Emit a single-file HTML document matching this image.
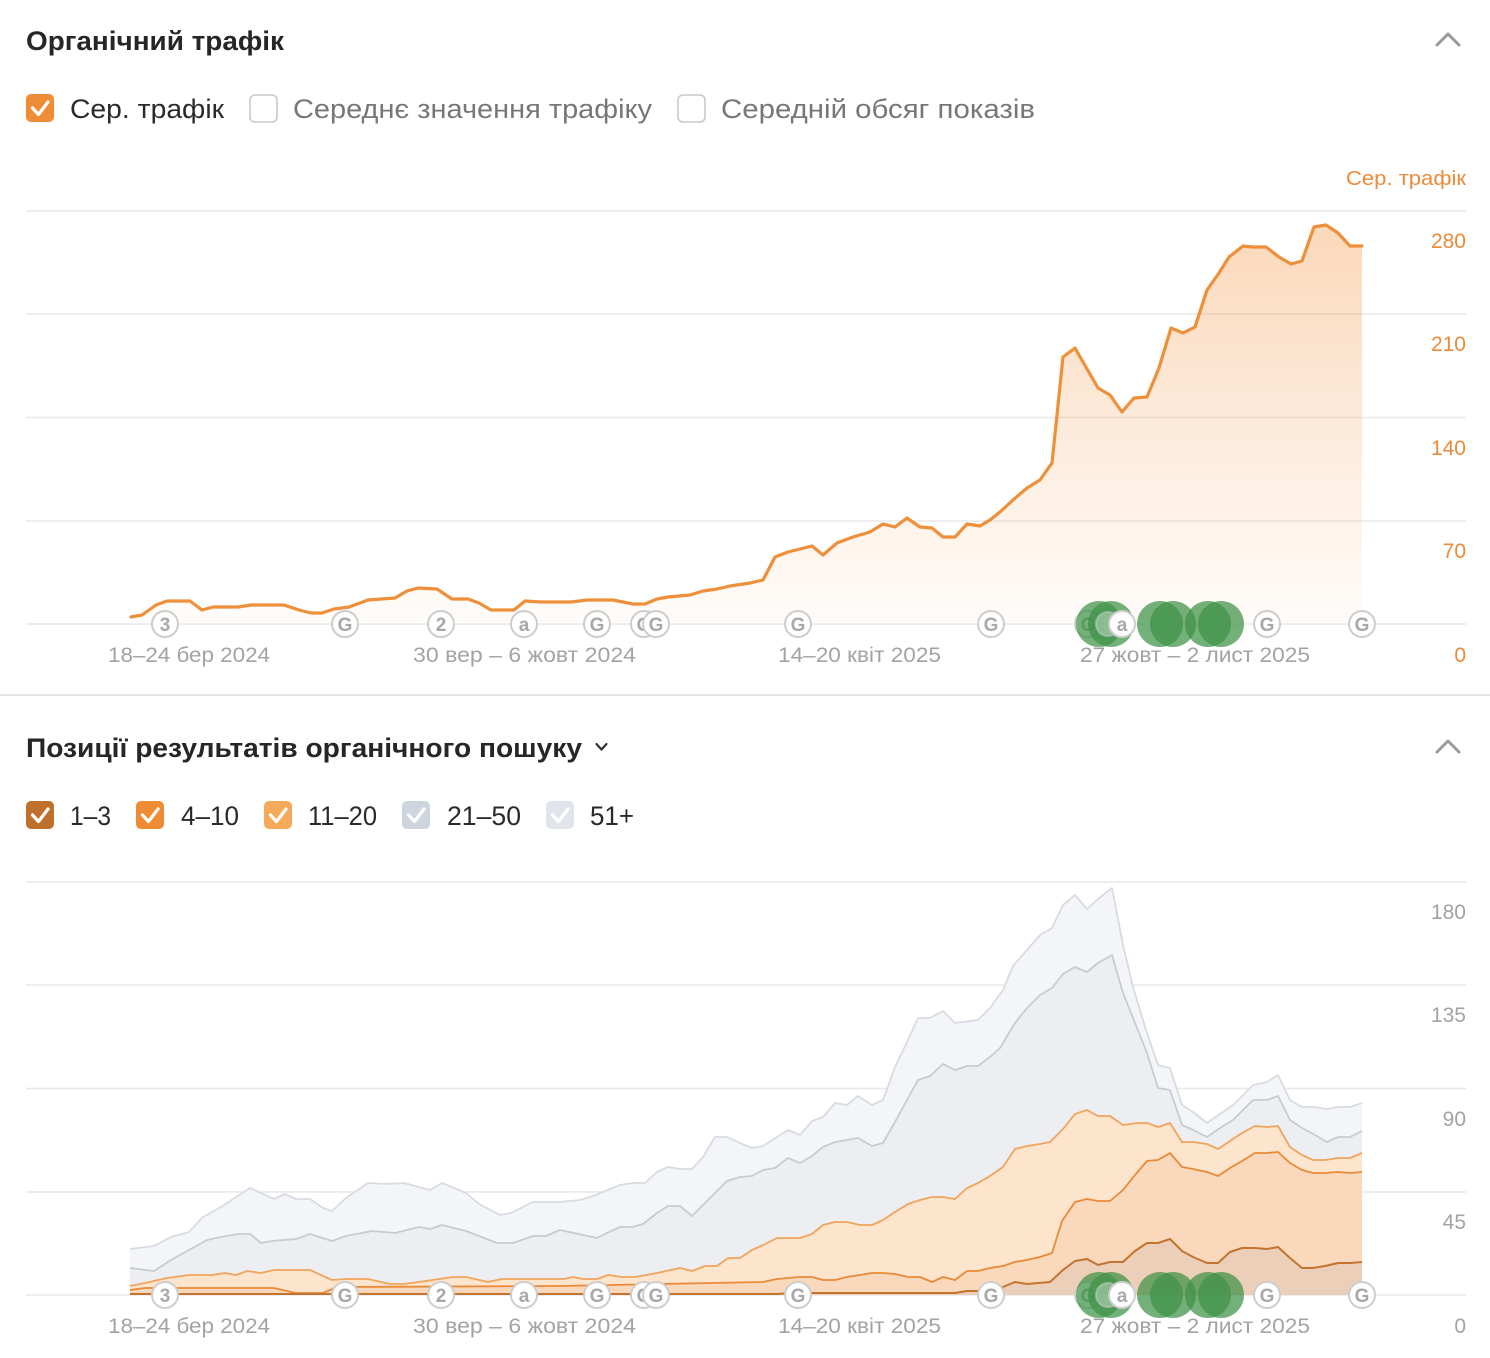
<!DOCTYPE html>
<html><head><meta charset="utf-8"><style>
html,body{margin:0;padding:0;background:#fff;}
svg{display:block;}
text{font-family:"Liberation Sans","Noto Sans CJK SC",sans-serif;}
</style></head><body>
<svg width="1490" height="1358" viewBox="0 0 1490 1358" xmlns="http://www.w3.org/2000/svg">
<defs>
<linearGradient id="fillO" x1="0" y1="225" x2="0" y2="624" gradientUnits="userSpaceOnUse">
<stop offset="0" stop-color="#f39a4c" stop-opacity="0.38"/>
<stop offset="1" stop-color="#f39a4c" stop-opacity="0.03"/>
</linearGradient>
</defs>
<rect width="1490" height="1358" fill="#fff"/>

<!-- Section 1 header -->
<text x="26" y="50" font-size="27" font-weight="bold" fill="#262626" textLength="258" lengthAdjust="spacingAndGlyphs">Органічний трафік</text>
<polyline points="1437,45 1448,34 1459,45" fill="none" stroke="#9a9a9a" stroke-width="3" stroke-linecap="round" stroke-linejoin="round"/>

<!-- checkboxes row -->
<rect x="26" y="94" width="28" height="28" rx="5" fill="#ef8d36"/>
<polyline points="32.5,108 38.5,114.5 48,102" fill="none" stroke="#fff" stroke-width="3.2" stroke-linecap="round" stroke-linejoin="round"/>
<text x="70" y="118" font-size="27" fill="#2a2a2a" textLength="154" lengthAdjust="spacingAndGlyphs">Сер. трафік</text>
<rect x="250" y="95" width="27" height="27" rx="5" fill="#fff" stroke="#c9c9c9" stroke-width="1.6"/>
<text x="293" y="118" font-size="27" fill="#777" textLength="359" lengthAdjust="spacingAndGlyphs">Середнє значення трафіку</text>
<rect x="678" y="95" width="27" height="27" rx="5" fill="#fff" stroke="#c9c9c9" stroke-width="1.6"/>
<text x="721" y="118" font-size="27" fill="#777" textLength="314" lengthAdjust="spacingAndGlyphs">Середній обсяг показів</text>

<!-- chart 1 axis title -->
<text x="1466" y="185" font-size="20" fill="#ec8a3a" text-anchor="end" textLength="120" lengthAdjust="spacingAndGlyphs">Сер. трафік</text>

<!-- chart1 gridlines -->
<g stroke="#e8e8e8" stroke-width="1.6">
<line x1="26" y1="211" x2="1466" y2="211"/>
<line x1="26" y1="314" x2="1466" y2="314"/>
<line x1="26" y1="417.5" x2="1466" y2="417.5"/>
<line x1="26" y1="521" x2="1466" y2="521"/>
<line x1="26" y1="624" x2="1466" y2="624"/>
</g>
<g font-size="21" fill="#ec8a3a" text-anchor="end">
<text x="1466" y="248">280</text>
<text x="1466" y="351">210</text>
<text x="1466" y="455">140</text>
<text x="1466" y="558">70</text>
<text x="1466" y="662">0</text>
</g>

<!-- chart1 area -->
<path fill="url(#fillO)" d="M131,617 L142,615 L156,605 L167,601 L190,601 L202,610 L213,607 L238,607 L251,605 L284,605 L299,610 L311,613 L322,613 L334,609 L349,607 L368,600 L395,598 L407,591 L418,588 L437,589 L452,599 L468,599 L479,603 L491,610 L514,610 L525,601 L541,602 L571,602 L587,600 L613,600 L633,604 L645,604 L657,599 L668,597 L690,595 L703,591 L717,589 L730,586 L750,583 L763,580 L775,557 L788,552 L812,546 L823,555 L837,543 L853,537 L870,532 L883,524 L895,527 L907,518 L920,527 L932,528 L943,537 L955,537 L967,524 L980,526 L990,520 L1000,512 L1013,500 L1027,488 L1040,480 L1052,463 L1063,357 L1075,348 L1098,388 L1110,395 L1122,412 L1134,398 L1147,397 L1159,368 L1171,328 L1183,333 L1195,327 L1207,290 L1219,273 L1229,257 L1243,246 L1253,247 L1266,247 L1279,257 L1291,264 L1302,261 L1314,227 L1326,225 L1338,233 L1350,246 L1362,246 L1362,622 L131,622 Z"/>
<polyline fill="none" stroke="#ee8f3a" stroke-width="3.2" stroke-linejoin="round" stroke-linecap="round" points="131,617 142,615 156,605 167,601 190,601 202,610 213,607 238,607 251,605 284,605 299,610 311,613 322,613 334,609 349,607 368,600 395,598 407,591 418,588 437,589 452,599 468,599 479,603 491,610 514,610 525,601 541,602 571,602 587,600 613,600 633,604 645,604 657,599 668,597 690,595 703,591 717,589 730,586 750,583 763,580 775,557 788,552 812,546 823,555 837,543 853,537 870,532 883,524 895,527 907,518 920,527 932,528 943,537 955,537 967,524 980,526 990,520 1000,512 1013,500 1027,488 1040,480 1052,463 1063,357 1075,348 1098,388 1110,395 1122,412 1134,398 1147,397 1159,368 1171,328 1183,333 1195,327 1207,290 1219,273 1229,257 1243,246 1253,247 1266,247 1279,257 1291,264 1302,261 1314,227 1326,225 1338,233 1350,246 1362,246"/>

<!-- chart1 x labels -->
<g font-size="21" fill="#a3a3a3">
<text x="108" y="662" textLength="162" lengthAdjust="spacingAndGlyphs">18–24 бер 2024</text>
<text x="413" y="662" textLength="223" lengthAdjust="spacingAndGlyphs">30 вер – 6 жовт 2024</text>
<text x="778" y="662" textLength="163" lengthAdjust="spacingAndGlyphs">14–20 квіт 2025</text>
<text x="1080" y="662" textLength="230" lengthAdjust="spacingAndGlyphs">27 жовт – 2 лист 2025</text>
</g>

<!-- chart1 markers -->
<g id="mk1">
<g stroke="#cdcdcd" stroke-width="2" fill="#fff">
<circle cx="165" cy="624" r="13"/>
<circle cx="345" cy="624" r="13"/>
<circle cx="441" cy="624" r="13"/>
<circle cx="524" cy="624" r="13"/>
<circle cx="597" cy="624" r="13"/>
<circle cx="644" cy="624" r="13"/>
</g>
<text x="644" y="631" font-size="19" font-weight="bold" fill="#a8a8a8" text-anchor="middle">G</text>
<g stroke="#cdcdcd" stroke-width="2" fill="#fff">
<circle cx="656" cy="624" r="13"/>
<circle cx="798" cy="624" r="13"/>
<circle cx="991" cy="624" r="13"/>
<circle cx="1088" cy="624" r="13"/>
<circle cx="1267" cy="624" r="13"/>
<circle cx="1362" cy="624" r="13"/>
</g>
<g font-size="19" font-weight="bold" fill="#a8a8a8" text-anchor="middle">
<text x="165" y="631">3</text>
<text x="345" y="631">G</text>
<text x="441" y="631">2</text>
<text x="524" y="631">a</text>
<text x="597" y="631">G</text>
<text x="656" y="631">G</text>
<text x="798" y="631">G</text>
<text x="991" y="631">G</text>
<text x="1088" y="631">G</text>
<text x="1267" y="631">G</text>
<text x="1362" y="631">G</text>
</g>
<g fill="#3f9246" fill-opacity="0.72">
<circle cx="1099" cy="624" r="23"/>
<circle cx="1111" cy="624" r="23"/>
</g>
<circle cx="1108" cy="624" r="12" fill="#fff" fill-opacity="0.35" stroke="#cdcdcd" stroke-opacity="0.5" stroke-width="2"/>
<circle cx="1122" cy="624" r="13" fill="#fff" stroke="#cdcdcd" stroke-width="2"/>
<text x="1122" y="631" font-size="19" font-weight="bold" fill="#a8a8a8" text-anchor="middle">a</text>
<g fill="#3f9246" fill-opacity="0.72">
<circle cx="1160" cy="624" r="23"/>
<circle cx="1173" cy="624" r="23"/>
<circle cx="1208" cy="624" r="23"/>
<circle cx="1221" cy="624" r="23"/>
</g>
</g>

<!-- divider -->
<line x1="0" y1="695" x2="1490" y2="695" stroke="#e4e4e4" stroke-width="2"/>

<!-- Section 2 header -->
<text x="26" y="757" font-size="27" font-weight="bold" fill="#262626" textLength="556" lengthAdjust="spacingAndGlyphs">Позиції результатів органічного пошуку</text>
<polyline points="596.5,744 601.5,749.5 606.5,744" fill="none" stroke="#333" stroke-width="2.2" stroke-linecap="round" stroke-linejoin="round"/>
<polyline points="1437,752 1448,741 1459,752" fill="none" stroke="#9a9a9a" stroke-width="3" stroke-linecap="round" stroke-linejoin="round"/>

<!-- legend -->
<rect x="26" y="801" width="28" height="28" rx="5" fill="#c0702d"/>
<rect x="136" y="801" width="28" height="28" rx="5" fill="#ee8b34"/>
<rect x="264" y="801" width="28" height="28" rx="5" fill="#f4aa58"/>
<rect x="402" y="801" width="28" height="28" rx="5" fill="#cfd5de"/>
<rect x="546" y="801" width="28" height="28" rx="5" fill="#e1e5eb"/>
<g stroke="#fff" stroke-width="3.2" fill="none" stroke-linecap="round" stroke-linejoin="round">
<polyline points="32.5,815 38.5,821.5 48,809"/>
<polyline points="142.5,815 148.5,821.5 158,809"/>
<polyline points="270.5,815 276.5,821.5 286,809"/>
<polyline points="408.5,815 414.5,821.5 424,809"/>
<polyline points="552.5,815 558.5,821.5 568,809"/>
</g>
<g font-size="27" fill="#2a2a2a">
<text x="70" y="825" textLength="41" lengthAdjust="spacingAndGlyphs">1–3</text>
<text x="181" y="825" textLength="58" lengthAdjust="spacingAndGlyphs">4–10</text>
<text x="308" y="825" textLength="69" lengthAdjust="spacingAndGlyphs">11–20</text>
<text x="447" y="825" textLength="74" lengthAdjust="spacingAndGlyphs">21–50</text>
<text x="590" y="825" textLength="44" lengthAdjust="spacingAndGlyphs">51+</text>
</g>

<!-- chart2 gridlines -->
<g stroke="#e8e8e8" stroke-width="1.6">
<line x1="26" y1="882" x2="1466" y2="882"/>
<line x1="26" y1="985" x2="1466" y2="985"/>
<line x1="26" y1="1088.5" x2="1466" y2="1088.5"/>
<line x1="26" y1="1192" x2="1466" y2="1192"/>
<line x1="26" y1="1295" x2="1466" y2="1295"/>
</g>
<g font-size="21" fill="#a3a3a3" text-anchor="end">
<text x="1466" y="919">180</text>
<text x="1466" y="1022">135</text>
<text x="1466" y="1126">90</text>
<text x="1466" y="1229">45</text>
<text x="1466" y="1333">0</text>
</g>

<!-- chart2 stacked areas -->
<path fill="#f4f5f8" d="M130,1249 L154,1246 L171,1237 L189,1232 L203,1217 L221,1207 L250,1188 L261,1193 L274,1199 L285,1194 L296,1199 L310,1199 L323,1208 L332,1211 L346,1198 L368,1183 L386,1184 L404,1183 L430,1190 L442,1183 L466,1193 L479,1204 L500,1215 L511,1213 L533,1202 L560,1202 L580,1200 L593,1196 L620,1185 L633,1183 L645,1183 L657,1172 L668,1167 L680,1169 L692,1169 L703,1157 L715,1137 L727,1137 L740,1143 L752,1148 L763,1146 L777,1137 L788,1130 L800,1135 L812,1121 L823,1117 L835,1103 L847,1105 L858,1096 L872,1105 L883,1100 L895,1067 L907,1042 L918,1018 L930,1018 L943,1011 L955,1023 L978,1020 L990,1008 L1003,990 L1013,966 L1027,950 L1040,935 L1052,928 L1063,905 L1075,895 L1087,909 L1098,899 L1112,888 L1123,945 L1133,987 L1147,1033 L1158,1065 L1170,1068 L1182,1105 L1193,1112 L1207,1123 L1220,1114 L1233,1105 L1253,1085 L1267,1082 L1278,1075 L1290,1100 L1302,1107 L1315,1107 L1327,1109 L1338,1107 L1350,1107 L1362,1103 L1362,1295 L130,1295 Z"/>
<path fill="#eceef2" d="M130,1268 L154,1271 L171,1260 L189,1250 L207,1240 L221,1237 L238,1234 L250,1234 L261,1243 L272,1241 L296,1239 L310,1234 L332,1241 L346,1236 L372,1231 L395,1233 L419,1227 L430,1229 L442,1225 L466,1231 L497,1243 L513,1243 L533,1236 L546,1236 L560,1230 L597,1238 L607,1233 L620,1227 L632,1227 L643,1224 L657,1213 L668,1206 L680,1206 L692,1216 L703,1205 L715,1193 L727,1181 L740,1177 L752,1176 L763,1170 L775,1168 L788,1158 L800,1163 L812,1156 L823,1147 L835,1142 L847,1140 L858,1138 L872,1146 L883,1143 L895,1122 L907,1100 L918,1080 L930,1076 L943,1064 L955,1070 L967,1066 L978,1066 L990,1057 L1000,1048 L1015,1023 L1027,1008 L1040,995 L1052,988 L1063,974 L1075,967 L1087,972 L1098,963 L1112,955 L1123,993 L1133,1018 L1147,1053 L1158,1088 L1170,1090 L1182,1125 L1193,1130 L1207,1137 L1220,1128 L1233,1120 L1253,1100 L1267,1100 L1278,1096 L1290,1120 L1302,1128 L1315,1135 L1327,1142 L1338,1137 L1350,1137 L1362,1131 L1362,1295 L130,1295 Z"/>
<path fill="#fde4cd" d="M130,1286 L145,1283 L167,1278 L189,1275 L212,1275 L225,1273 L236,1275 L247,1271 L261,1273 L274,1270 L310,1270 L332,1280 L346,1279 L368,1279 L390,1284 L404,1284 L426,1281 L453,1277 L466,1277 L488,1282 L502,1279 L564,1279 L573,1277 L583,1279 L597,1279 L608,1275 L622,1277 L635,1277 L657,1273 L680,1268 L692,1271 L705,1266 L717,1266 L728,1258 L740,1258 L752,1250 L763,1245 L777,1238 L800,1238 L812,1234 L823,1225 L835,1222 L847,1222 L860,1225 L872,1225 L883,1220 L895,1212 L908,1204 L920,1200 L932,1197 L943,1197 L955,1199 L967,1188 L978,1183 L990,1176 L1003,1167 L1015,1149 L1027,1146 L1040,1144 L1050,1142 L1063,1129 L1075,1114 L1087,1110 L1098,1116 L1110,1116 L1123,1125 L1137,1123 L1147,1123 L1158,1127 L1170,1123 L1182,1142 L1193,1142 L1207,1144 L1218,1149 L1230,1141 L1242,1133 L1255,1126 L1267,1127 L1278,1126 L1290,1147 L1302,1155 L1313,1160 L1325,1160 L1338,1158 L1350,1158 L1362,1153 L1362,1295 L130,1295 Z"/>
<path fill="#fad8bb" d="M130,1290 L145,1288 L274,1288 L296,1293 L323,1293 L337,1287 L560,1286 L763,1282 L777,1279 L800,1277 L812,1277 L823,1280 L835,1280 L847,1277 L860,1275 L872,1273 L883,1273 L895,1274 L908,1277 L920,1277 L932,1282 L943,1277 L955,1280 L967,1271 L978,1271 L990,1268 L1003,1266 L1015,1262 L1027,1260 L1040,1257 L1052,1253 L1062,1221 L1075,1202 L1087,1199 L1098,1201 L1110,1201 L1123,1190 L1135,1175 L1147,1161 L1158,1160 L1170,1153 L1182,1167 L1193,1169 L1207,1172 L1218,1176 L1230,1168 L1242,1161 L1255,1153 L1267,1153 L1278,1152 L1290,1163 L1302,1170 L1313,1173 L1325,1173 L1338,1172 L1350,1173 L1362,1172 L1362,1295 L130,1295 Z"/>
<path fill="#eccfb8" d="M130,1294 L777,1294 L793,1293 L955,1293 L967,1291 L978,1291 L990,1290 L1003,1287 L1015,1282 L1027,1284 L1050,1282 L1063,1270 L1075,1261 L1087,1259 L1098,1265 L1110,1262 L1123,1262 L1135,1251 L1147,1243 L1158,1243 L1170,1239 L1182,1251 L1193,1257 L1207,1263 L1218,1263 L1230,1252 L1242,1248 L1255,1248 L1267,1249 L1278,1247 L1290,1258 L1302,1268 L1313,1268 L1325,1266 L1338,1263 L1350,1263 L1362,1262 L1362,1295 L130,1295 Z"/>

<!-- chart2 lines -->
<g fill="none" stroke-linejoin="round" stroke-width="1.8">
<polyline stroke="#d8dbe1" points="130,1249 154,1246 171,1237 189,1232 203,1217 221,1207 250,1188 261,1193 274,1199 285,1194 296,1199 310,1199 323,1208 332,1211 346,1198 368,1183 386,1184 404,1183 430,1190 442,1183 466,1193 479,1204 500,1215 511,1213 533,1202 560,1202 580,1200 593,1196 620,1185 633,1183 645,1183 657,1172 668,1167 680,1169 692,1169 703,1157 715,1137 727,1137 740,1143 752,1148 763,1146 777,1137 788,1130 800,1135 812,1121 823,1117 835,1103 847,1105 858,1096 872,1105 883,1100 895,1067 907,1042 918,1018 930,1018 943,1011 955,1023 978,1020 990,1008 1003,990 1013,966 1027,950 1040,935 1052,928 1063,905 1075,895 1087,909 1098,899 1112,888 1123,945 1133,987 1147,1033 1158,1065 1170,1068 1182,1105 1193,1112 1207,1123 1220,1114 1233,1105 1253,1085 1267,1082 1278,1075 1290,1100 1302,1107 1315,1107 1327,1109 1338,1107 1350,1107 1362,1103"/>
<polyline stroke="#c7cbd3" points="130,1268 154,1271 171,1260 189,1250 207,1240 221,1237 238,1234 250,1234 261,1243 272,1241 296,1239 310,1234 332,1241 346,1236 372,1231 395,1233 419,1227 430,1229 442,1225 466,1231 497,1243 513,1243 533,1236 546,1236 560,1230 597,1238 607,1233 620,1227 632,1227 643,1224 657,1213 668,1206 680,1206 692,1216 703,1205 715,1193 727,1181 740,1177 752,1176 763,1170 775,1168 788,1158 800,1163 812,1156 823,1147 835,1142 847,1140 858,1138 872,1146 883,1143 895,1122 907,1100 918,1080 930,1076 943,1064 955,1070 967,1066 978,1066 990,1057 1000,1048 1015,1023 1027,1008 1040,995 1052,988 1063,974 1075,967 1087,972 1098,963 1112,955 1123,993 1133,1018 1147,1053 1158,1088 1170,1090 1182,1125 1193,1130 1207,1137 1220,1128 1233,1120 1253,1100 1267,1100 1278,1096 1290,1120 1302,1128 1315,1135 1327,1142 1338,1137 1350,1137 1362,1131"/>
<polyline stroke="#f1a45b" points="130,1286 145,1283 167,1278 189,1275 212,1275 225,1273 236,1275 247,1271 261,1273 274,1270 310,1270 332,1280 346,1279 368,1279 390,1284 404,1284 426,1281 453,1277 466,1277 488,1282 502,1279 564,1279 573,1277 583,1279 597,1279 608,1275 622,1277 635,1277 657,1273 680,1268 692,1271 705,1266 717,1266 728,1258 740,1258 752,1250 763,1245 777,1238 800,1238 812,1234 823,1225 835,1222 847,1222 860,1225 872,1225 883,1220 895,1212 908,1204 920,1200 932,1197 943,1197 955,1199 967,1188 978,1183 990,1176 1003,1167 1015,1149 1027,1146 1040,1144 1050,1142 1063,1129 1075,1114 1087,1110 1098,1116 1110,1116 1123,1125 1137,1123 1147,1123 1158,1127 1170,1123 1182,1142 1193,1142 1207,1144 1218,1149 1230,1141 1242,1133 1255,1126 1267,1127 1278,1126 1290,1147 1302,1155 1313,1160 1325,1160 1338,1158 1350,1158 1362,1153"/>
<polyline stroke="#e98a38" points="130,1290 145,1288 274,1288 296,1293 323,1293 337,1287 560,1286 763,1282 777,1279 800,1277 812,1277 823,1280 835,1280 847,1277 860,1275 872,1273 883,1273 895,1274 908,1277 920,1277 932,1282 943,1277 955,1280 967,1271 978,1271 990,1268 1003,1266 1015,1262 1027,1260 1040,1257 1052,1253 1062,1221 1075,1202 1087,1199 1098,1201 1110,1201 1123,1190 1135,1175 1147,1161 1158,1160 1170,1153 1182,1167 1193,1169 1207,1172 1218,1176 1230,1168 1242,1161 1255,1153 1267,1153 1278,1152 1290,1163 1302,1170 1313,1173 1325,1173 1338,1172 1350,1173 1362,1172"/>
<polyline stroke="#c4742f" stroke-width="2" points="130,1294 777,1294 793,1293 955,1293 967,1291 978,1291 990,1290 1003,1287 1015,1282 1027,1284 1050,1282 1063,1270 1075,1261 1087,1259 1098,1265 1110,1262 1123,1262 1135,1251 1147,1243 1158,1243 1170,1239 1182,1251 1193,1257 1207,1263 1218,1263 1230,1252 1242,1248 1255,1248 1267,1249 1278,1247 1290,1258 1302,1268 1313,1268 1325,1266 1338,1263 1350,1263 1362,1262"/>
</g>

<!-- chart2 x labels -->
<g font-size="21" fill="#a3a3a3">
<text x="108" y="1333" textLength="162" lengthAdjust="spacingAndGlyphs">18–24 бер 2024</text>
<text x="413" y="1333" textLength="223" lengthAdjust="spacingAndGlyphs">30 вер – 6 жовт 2024</text>
<text x="778" y="1333" textLength="163" lengthAdjust="spacingAndGlyphs">14–20 квіт 2025</text>
<text x="1080" y="1333" textLength="230" lengthAdjust="spacingAndGlyphs">27 жовт – 2 лист 2025</text>
</g>

<!-- chart2 markers -->
<use href="#mk1" transform="translate(0,671)"/>
</svg>
</body></html>
